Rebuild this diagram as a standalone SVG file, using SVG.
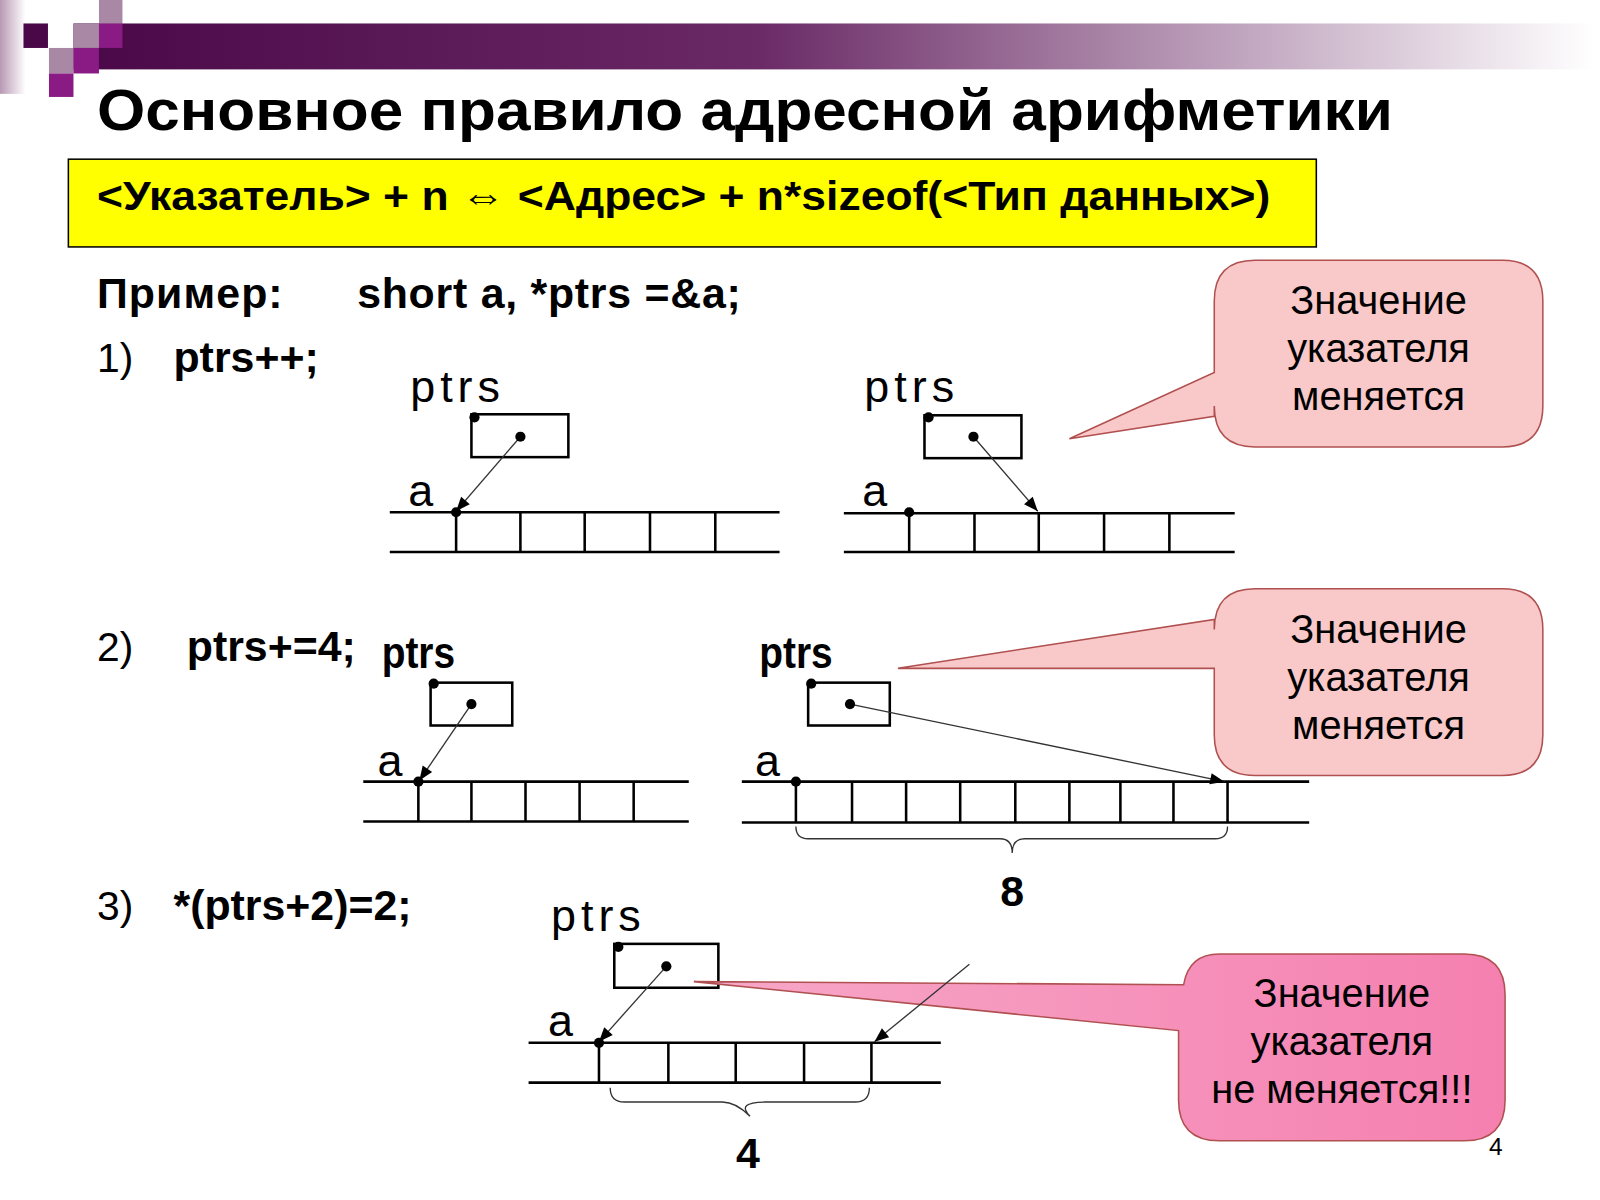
<svg xmlns="http://www.w3.org/2000/svg" width="1600" height="1200" viewBox="0 0 1600 1200">
<defs>
<linearGradient id="bar" x1="0" x2="1" y1="0" y2="0"><stop offset="0" stop-color="#4a0848"/><stop offset="0.45" stop-color="#6a2a66"/><stop offset="1" stop-color="#ffffff"/></linearGradient>
<linearGradient id="strip" x1="0" x2="1"><stop offset="0" stop-color="#b898b4"/><stop offset="1" stop-color="#ffffff"/></linearGradient>
<linearGradient id="pink" x1="0" x2="1"><stop offset="0" stop-color="#f7a8c8"/><stop offset="1" stop-color="#f580b0"/></linearGradient>
<marker id="ah" viewBox="0 0 10 10" refX="10" refY="5" markerWidth="18" markerHeight="14" orient="auto" markerUnits="userSpaceOnUse"><path d="M0,1 L10,5 L0,9 z" fill="#000"/></marker>
</defs>
<style>
text{font-family:"Liberation Sans",Arial,sans-serif;fill:#000}
.b{font-weight:bold}
.lbl{font-size:44px}
.rail{stroke:#000;stroke-width:2.5;fill:none}
.box{stroke:#000;stroke-width:2.5;fill:#fff}
.ptr{stroke:#333;stroke-width:1.3;fill:none}
.call{stroke:#b05050;stroke-width:1.5}
.ct{font-size:39px;text-anchor:middle}
</style>
<rect width="1600" height="1200" fill="#fff"/>
<g transform="scale(1.0204)">
<rect x="0" y="0" width="25" height="92" fill="url(#strip)"/>
<rect x="72" y="23" width="1490" height="45" fill="url(#bar)"/>
<rect x="23" y="23" width="24" height="24" fill="#4a0848"/>
<rect x="72" y="23" width="25" height="24" fill="#a888a4"/>
<rect x="97" y="0" width="23" height="23" fill="#a888a4"/>
<rect x="97" y="23" width="23" height="24" fill="#8a1a84"/>
<rect x="48" y="47" width="24" height="25" fill="#a888a4"/>
<rect x="72" y="47" width="25" height="25" fill="#8a1a84"/>
<rect x="48" y="72" width="24" height="23" fill="#8a1a84"/>
<text x="95" y="127" class="b" font-size="56" textLength="1270" lengthAdjust="spacingAndGlyphs">Основное правило адресной арифметики</text>
<rect x="67" y="156" width="1223" height="86" fill="#ffff00" stroke="#000" stroke-width="1.5"/>
<text x="95" y="206" class="b" font-size="40" textLength="1150" lengthAdjust="spacingAndGlyphs">&lt;Указатель&gt; + n ⇔ &lt;Адрес&gt; + n*sizeof(&lt;Тип данных&gt;)</text>
<text x="95" y="302" class="b" font-size="42" textLength="182">Пример:</text>
<text x="350" y="302" class="b" font-size="42" textLength="376">short a, *ptrs =&amp;a;</text>
<text x="95" y="365" font-size="40">1)</text><text x="170" y="365" class="b" font-size="42">ptrs++;</text>
<text x="95" y="648" font-size="40">2)</text><text x="183" y="648" class="b" font-size="42">ptrs+=4;</text>
<text x="95" y="902" font-size="40">3)</text><text x="170" y="902" class="b" font-size="42">*(ptrs+2)=2;</text>

<g id="callout1">
<path class="call" d="M1230,255 H1472 Q1512,255 1512,295 V398 Q1512,438 1472,438 H1230 Q1190,438 1190,398 V408 L1048,430 L1190,365 V295 Q1190,255 1230,255 Z" fill="#f9c8c8"/>
<text x="1351" y="308" class="ct">Значение</text><text x="1351" y="355" class="ct">указателя</text><text x="1351" y="402" class="ct">меняется</text>
</g>
<g id="callout2">
<path class="call" d="M1230,577 H1472 Q1512,577 1512,617 V720 Q1512,760 1472,760 H1230 Q1190,760 1190,720 V655 L880,655 L1190,607 V617 Q1190,577 1230,577 Z" fill="#f9c8c8"/>
<text x="1351" y="630" class="ct">Значение</text><text x="1351" y="677" class="ct">указателя</text><text x="1351" y="724" class="ct">меняется</text>
</g>

<g id="d1a">
<text x="402" y="394" class="lbl" textLength="88">ptrs</text><text x="400" y="496" class="lbl">a</text>
<rect class="box" x="462" y="406" width="95" height="42"/>
<path class="rail" d="M382,502H764M382,541H764M447,502V541M510,502V541M573,502V541M637,502V541M701,502V541"/>
</g>
<g id="d1b">
<text x="847" y="394" class="lbl" textLength="88">ptrs</text><text x="845" y="496" class="lbl">a</text>
<rect class="box" x="906" y="407" width="95" height="42"/>
<path class="rail" d="M827,503H1210M827,541H1210M891,503V541M955,503V541M1018,503V541M1082,503V541M1146,503V541"/>
</g>
<g id="d2a">
<text x="374" y="655" class="lbl b" textLength="72" lengthAdjust="spacingAndGlyphs">ptrs</text><text x="370" y="760" class="lbl">a</text>
<rect class="box" x="422" y="669" width="80" height="42"/>
<path class="rail" d="M356,766H675M356,805H675M410,766V805M462,766V805M515,766V805M568,766V805M621,766V805"/>
</g>
<g id="d2b">
<text x="744" y="655" class="lbl b" textLength="72" lengthAdjust="spacingAndGlyphs">ptrs</text><text x="740" y="760" class="lbl">a</text>
<rect class="box" x="792" y="669" width="80" height="42"/>
<path class="rail" d="M727,766H1283M727,806H1283M780,766V806M835,766V806M888,766V806M941,766V806M995,766V806M1048,766V806M1098,766V806M1150,766V806M1203,766V806"/>
<path class="ptr" d="M780,810 Q780,822 792,822 H980 Q992,822 992,836 Q992,822 1004,822 H1191 Q1203,822 1203,810"/>
<text x="992" y="888" class="b" font-size="42" text-anchor="middle">8</text>
</g>
<g id="d3">
<text x="540" y="912" class="lbl" textLength="88">ptrs</text><text x="537" y="1015" class="lbl">a</text>
<rect class="box" x="602" y="925" width="102" height="43"/>
<path class="rail" d="M518,1022H922M518,1061H922M587,1022V1061M655,1022V1061M721,1022V1061M788,1022V1061M854,1022V1061"/>
<path class="ptr" d="M598,1066 Q598,1080 612,1080 H708 Q721,1080 735,1094 Q721,1080 750,1080 H838 Q852,1080 852,1066"/>
<text x="733" y="1145" class="b" font-size="42" text-anchor="middle">4</text>
</g>
<g id="callout3">
<path class="call" d="M1195,935 H1435 Q1475,935 1475,975 V1078 Q1475,1118 1435,1118 H1195 Q1155,1118 1155,1078 V1010 L680,962 L1160,965 Q1165,935 1195,935 Z" fill="url(#pink)"/>
<text x="1315" y="987" class="ct">Значение</text><text x="1315" y="1034" class="ct">указателя</text><text x="1315" y="1081" class="ct">не меняется!!!</text>
</g>

<g id="connectors" fill="#000">
<path class="ptr" d="M510,428L447,501" marker-end="url(#ah)"/>
<path class="ptr" d="M954,428L1017,501" marker-end="url(#ah)"/>
<path class="ptr" d="M462,690L411,765" marker-end="url(#ah)"/>
<path class="ptr" d="M833,690L1200,766" marker-end="url(#ah)"/>
<path class="ptr" d="M653,947L587,1021" marker-end="url(#ah)"/>
<path class="ptr" d="M950,945L857,1021" marker-end="url(#ah)"/>
<circle cx="465" cy="409" r="5"/><circle cx="510" cy="428" r="5"/><circle cx="447" cy="502" r="5"/>
<circle cx="910" cy="409" r="5"/><circle cx="954" cy="428" r="5"/><circle cx="891" cy="502" r="5"/>
<circle cx="425" cy="670" r="5"/><circle cx="462" cy="690" r="5"/><circle cx="410" cy="766" r="5"/>
<circle cx="795" cy="670" r="5"/><circle cx="833" cy="690" r="5"/><circle cx="780" cy="766" r="5"/>
<circle cx="606" cy="928" r="5"/><circle cx="653" cy="947" r="5"/><circle cx="587" cy="1022" r="5"/>
</g>
<text x="1466" y="1132" font-size="24" text-anchor="middle">4</text>
</g>
</svg>
